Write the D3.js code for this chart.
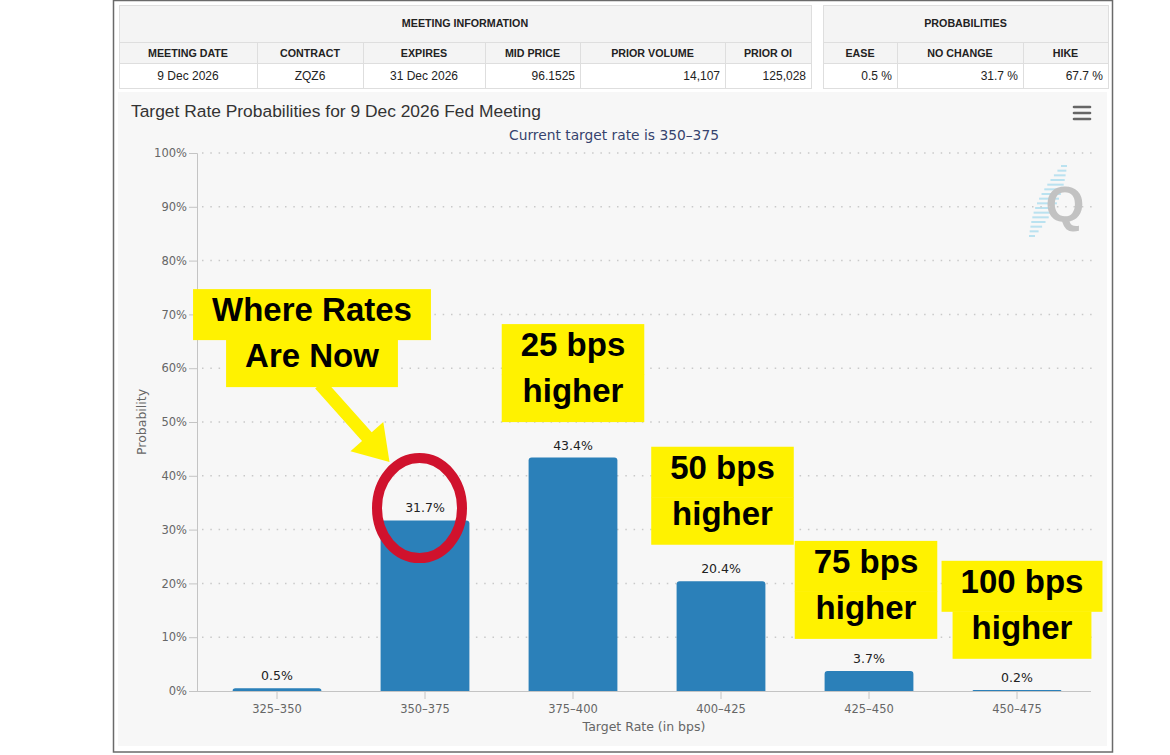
<!DOCTYPE html>
<meta charset="utf-8">
<style>
body { margin: 0; background: #fff; }
svg { display: block; }
.tbl text { font-family: "Liberation Sans", Arial, sans-serif; fill: #222; }
.tbl .hd { font-weight: bold; font-size: 10.7px; }
.tbl .val { font-size: 12px; }
.axis text { font-family: "DejaVu Sans", sans-serif; font-size: 11.5px; fill: #666; }
.grid line { stroke: #c9c9c9; stroke-width: 1.5; stroke-dasharray: 1.5,6.8; }
.note text { font-family: "Liberation Sans", Arial, sans-serif; font-weight: bold; font-size: 33px; fill: #000; }
</style>
<svg width="1170" height="755"></svg>
<script src="https://d3js.org/d3.v7.min.js"></script>
<script>

// chart values
var categories = ["325\u2013350", "350\u2013375", "375\u2013400", "400\u2013425", "425\u2013450", "450\u2013475"];
var probabilities = [0.5, 31.7, 43.4, 20.4, 3.7, 0.2];

// table values
var meetingHeaders = ["MEETING DATE", "CONTRACT", "EXPIRES", "MID PRICE", "PRIOR VOLUME", "PRIOR OI"];
var meetingValues = ["9 Dec 2026", "ZQZ6", "31 Dec 2026", "96.1525", "14,107", "125,028"];
var probHeaders = ["EASE", "NO CHANGE", "HIKE"];
var probValues = ["0.5 %", "31.7 %", "67.7 %"];

var svg = d3.select("svg");

// outer frame and chart panel
svg.append("rect").attr("x", 113.5).attr("y", 0.5).attr("width", 999).attr("height", 751.5)
  .attr("fill", "#fff").attr("stroke", "#6a6a6a").attr("stroke-width", 1.5);
svg.append("rect").attr("x", 118).attr("y", 92).attr("width", 989).attr("height", 654)
  .attr("fill", "#f7f7f7");

// ---- tables ----
function drawTable(g, title, cols, headers, values, rightFrom) {
  var x0 = cols[0], x1 = cols[cols.length - 1];
  var rows = [5, 42, 63, 88];
  g.append("rect").attr("x", x0 + 0.5).attr("y", rows[0] + 0.5)
    .attr("width", x1 - x0).attr("height", rows[2] - rows[0]).attr("fill", "#f4f4f4");
  g.append("rect").attr("x", x0 + 0.5).attr("y", rows[2] + 0.5)
    .attr("width", x1 - x0).attr("height", rows[3] - rows[2]).attr("fill", "#fff");
  g.append("rect").attr("x", x0 + 0.5).attr("y", rows[0] + 0.5)
    .attr("width", x1 - x0).attr("height", rows[3] - rows[0])
    .attr("fill", "none").attr("stroke", "#dedede");
  g.append("line").attr("x1", x0).attr("x2", x1).attr("y1", rows[1] + 0.5).attr("y2", rows[1] + 0.5)
    .attr("stroke", "#dedede");
  g.append("line").attr("x1", x0).attr("x2", x1).attr("y1", rows[2] + 0.5).attr("y2", rows[2] + 0.5)
    .attr("stroke", "#dedede");
  g.selectAll("line.sep").data(cols.slice(1, -1)).enter().append("line")
    .attr("class", "sep")
    .attr("x1", function(d) { return d + 0.5; }).attr("x2", function(d) { return d + 0.5; })
    .attr("y1", rows[1]).attr("y2", rows[3]).attr("stroke", "#dedede");

  g.append("text").attr("class", "hd").attr("x", (x0 + x1) / 2).attr("y", 27)
    .attr("text-anchor", "middle").text(title);
  g.selectAll("text.ch").data(headers).enter().append("text")
    .attr("class", "hd ch")
    .attr("x", function(d, i) { return (cols[i] + cols[i + 1]) / 2; })
    .attr("y", 56.5).attr("text-anchor", "middle").text(function(d) { return d; });
  g.selectAll("text.cv").data(values).enter().append("text")
    .attr("class", "val cv")
    .attr("x", function(d, i) { return i >= rightFrom ? cols[i + 1] - 5 : (cols[i] + cols[i + 1]) / 2; })
    .attr("y", 80)
    .attr("text-anchor", function(d, i) { return i >= rightFrom ? "end" : "middle"; })
    .text(function(d) { return d; });
}

drawTable(svg.append("g").attr("class", "tbl"), "MEETING INFORMATION",
  [119, 257, 363, 485, 580, 725, 811], meetingHeaders, meetingValues, 3);
drawTable(svg.append("g").attr("class", "tbl"), "PROBABILITIES",
  [823, 897, 1023, 1108], probHeaders, probValues, 0);

// ---- chart ----
svg.append("text").attr("x", 131).attr("y", 117)
  .style("font-family", "'Liberation Sans', Arial, sans-serif").style("font-size", "17.4px")
  .attr("fill", "#333").text("Target Rate Probabilities for 9 Dec 2026 Fed Meeting");
svg.append("text").attr("x", 614).attr("y", 140).attr("text-anchor", "middle")
  .style("font-family", "'DejaVu Sans', sans-serif").style("font-size", "13.8px")
  .attr("fill", "#36436e").text("Current target rate is 350\u2013375");

// menu icon
svg.append("g").selectAll("line").data([107, 113, 119]).enter().append("line")
  .attr("x1", 1074).attr("x2", 1090).attr("y1", function(d) { return d; }).attr("y2", function(d) { return d; })
  .attr("stroke", "#666").attr("stroke-width", 2.6).attr("stroke-linecap", "round");

// watermark
var wm = svg.append("g").attr("opacity", 0.9);
d3.range(16).forEach(function(i) {
  var t = i / 15;
  var cy = 166 + t * 70, cx = 1064 - t * 32;
  var len = 6 + Math.sin(t * Math.PI) * 14;
  wm.append("line").attr("x1", cx - len / 2).attr("x2", cx + len / 2)
    .attr("y1", cy).attr("y2", cy).attr("stroke", "#b4e0f0").attr("stroke-width", 2);
});
wm.append("text").attr("x", 1065).attr("y", 222).attr("text-anchor", "middle")
  .style("font-family", "'Liberation Sans', Arial, sans-serif").style("font-weight", "bold")
  .style("font-size", "50px").attr("fill", "#bdbdbd").text("Q");

var x = d3.scaleBand().domain(categories).range([203, 1091]).paddingInner(0.4).paddingOuter(0.2),
    y = d3.scaleLinear().domain([0, 100]).range([691, 153]);
var xc = function(c) { return x(c) + x.bandwidth() / 2; };

// grid
svg.append("g").attr("class", "grid").selectAll("line")
  .data(y.ticks(10).filter(function(d) { return d > 0; })).enter().append("line")
  .attr("x1", 202).attr("x2", 1092)
  .attr("y1", function(d) { return y(d); }).attr("y2", function(d) { return y(d); });

// y axis
var yAxis = svg.append("g").attr("class", "axis")
  .attr("transform", "translate(197,0)")
  .call(d3.axisLeft(y).ticks(10).tickSize(8).tickPadding(2).tickFormat(function(d) { return d + "%"; }));
yAxis.select(".domain").attr("stroke", "#c4c4c4");
yAxis.selectAll(".tick line").attr("stroke", "#c4c4c4");

// x axis
var xAxis = svg.append("g").attr("class", "axis")
  .attr("transform", "translate(0,691)")
  .call(d3.axisBottom(x).tickSize(8).tickPadding(6));
xAxis.select(".domain").attr("d", "M197,0.5H1091").attr("stroke", "#c4c4c4");
xAxis.selectAll(".tick line").attr("stroke", "#c4c4c4");

svg.append("text").attr("x", 644).attr("y", 731).attr("text-anchor", "middle")
  .style("font-family", "'DejaVu Sans', sans-serif").style("font-size", "12.5px")
  .attr("fill", "#666").text("Target Rate (in bps)");
svg.append("text").attr("transform", "translate(146,422) rotate(-90)").attr("text-anchor", "middle")
  .style("font-family", "'DejaVu Sans', sans-serif").style("font-size", "12.5px")
  .attr("fill", "#666").text("Probability");

// bars with rounded tops
function barPath(c, v) {
  var x0 = x(c), w = x.bandwidth(), y0 = y(0), y1 = y(v);
  var r = Math.min(3, y0 - y1);
  return "M" + x0 + "," + y0 + "V" + (y1 + r) + "Q" + x0 + "," + y1 + " " + (x0 + r) + "," + y1 +
    "H" + (x0 + w - r) + "Q" + (x0 + w) + "," + y1 + " " + (x0 + w) + "," + (y1 + r) + "V" + y0 + "Z";
}
var bars = svg.append("g").selectAll("g").data(categories).enter().append("g");
bars.append("path").attr("d", function(c, i) { return barPath(c, probabilities[i]); })
  .attr("fill", "#2b80b9");
bars.append("text").attr("x", xc).attr("y", function(c, i) { return y(probabilities[i]) - 8; })
  .attr("text-anchor", "middle")
  .style("font-family", "'DejaVu Sans', sans-serif").style("font-size", "12.5px")
  .attr("fill", "#222").text(function(c, i) { return probabilities[i] + "%"; });

// ---- annotations ----
var notes = [
  { lines: ["Where Rates", "Are Now"], cat: categories[1], dx: -113, top: 74.7, stagger: true },
  { lines: ["25 bps", "higher"], cat: categories[2], dx: 0, top: 68.2, stagger: false },
  { lines: ["50 bps", "higher"], cat: categories[3], dx: 1.5, top: 45.4, stagger: false },
  { lines: ["75 bps", "higher"], cat: categories[4], dx: -3, top: 27.9, stagger: false },
  { lines: ["100 bps", "higher"], cat: categories[5], dx: 5, top: 24.2, stagger: true }
];

// red ring around the current rate bar
var ring = { cx: xc(categories[1]) - 5.5, cy: y(34) };

var noteG = svg.append("g").attr("class", "note");
var whereBox = null;
notes.forEach(function(n) {
  var cx = xc(n.cat) + n.dx, top = y(n.top);
  var g = noteG.append("g");
  var rects = g.append("g");
  var widths = n.lines.map(function(t, i) {
    var tx = g.append("text").attr("x", cx).attr("y", top + (i === 0 ? 32 : 78))
      .attr("text-anchor", "middle").text(t);
    return tx.node().getComputedTextLength() + 38;
  });
  var maxW = d3.max(widths);
  var hs = [[0, 51], [51, 98]];
  n.lines.forEach(function(t, i) {
    var w = n.stagger ? widths[i] : maxW;
    rects.append("rect").attr("x", cx - w / 2).attr("y", top + hs[i][0] - (i ? 0.5 : 0))
      .attr("width", w).attr("height", hs[i][1] - hs[i][0] + (i ? 0.5 : 0)).attr("fill", "#fff200");
  });
  if (n === notes[0]) whereBox = { cx: cx, bottom: top + 98 };
});

// arrow from the first note to the ring
(function() {
  var s = [whereBox.cx + 8, whereBox.bottom - 3], e = [ring.cx - 30, ring.cy - 46];
  var dx = e[0] - s[0], dy = e[1] - s[1], len = Math.sqrt(dx * dx + dy * dy);
  var ux = dx / len, uy = dy / len, px = -uy, py = ux;
  var sw = 6.5, hw = 22, hl = 34;
  var b = [e[0] - ux * hl, e[1] - uy * hl];
  var pts = [
    [s[0] + px * sw, s[1] + py * sw], [b[0] + px * sw, b[1] + py * sw], [b[0] + px * hw, b[1] + py * hw],
    e, [b[0] - px * hw, b[1] - py * hw], [b[0] - px * sw, b[1] - py * sw], [s[0] - px * sw, s[1] - py * sw]
  ];
  svg.append("polygon").attr("points", pts.map(function(p) { return p.join(","); }).join(" "))
    .attr("fill", "#fff200");
})();

svg.append("ellipse").attr("cx", ring.cx).attr("cy", ring.cy).attr("rx", 42.5).attr("ry", 50)
  .attr("fill", "none").attr("stroke", "#d0122d").attr("stroke-width", 10);

</script>
